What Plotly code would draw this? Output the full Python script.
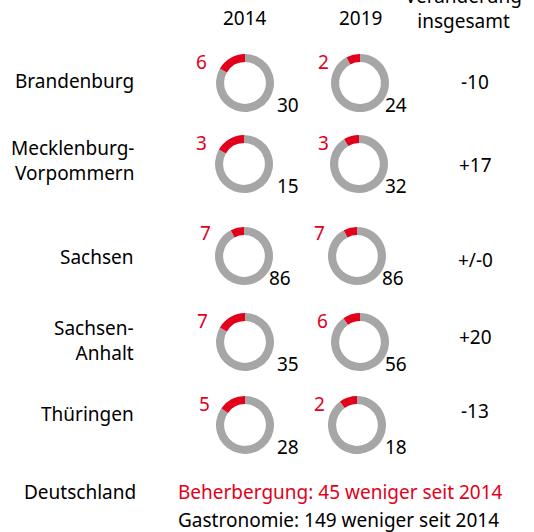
import plotly.graph_objects as go

# ---- data ----
states = ["Brandenburg", "Mecklenburg-<br>Vorpommern", "Sachsen", "Sachsen-<br>Anhalt", "Thüringen"]
years = ["2014", "2019"]
beherbergung_2014 = [6, 3, 7, 7, 5]
gastronomie_2014 = [30, 15, 86, 35, 28]
beherbergung_2019 = [2, 3, 7, 6, 2]
gastronomie_2019 = [24, 32, 86, 56, 18]
header_change = "Veränderung<br>insgesamt"
footer_label = "Deutschland"
footer_beh = "Beherbergung: 45 weniger seit 2014"
footer_gas = "Gastronomie: 149 weniger seit 2014"

# ---- styling / layout (pixel positions) ----
W, H = 534, 532
RED = "#e2001a"
GRAY = "#a6a6a6"
FONT = "Noto Sans"
FS = 19
R = 29
col_cx = [245, 360]
pie_cx = [[245, 244, 244, 245, 245], [360, 359, 357, 360, 357]]
pie_cy = [83, 164, 256, 342, 425]
red_right = [[209, 209, 213, 210, 212], [331, 331, 327, 330, 327]]
red_dy = [-21, -21, -23, -21, -21]
black_left = [[275, 275, 267, 275, 275], [383, 383, 380, 383, 383]]
state_cy = [81, 161, 257, 340, 414]
change_y = [82, 165, 260, 337, 411]


def px(x):
    return x / W


def py(y):
    return 1 - y / H


fig = go.Figure()
annotations = []


def ann(text, x, y, xanchor="center", color="black", size=FS, align="center"):
    annotations.append(dict(
        text=text, x=px(x), y=py(y), xref="paper", yref="paper",
        xanchor=xanchor, yanchor="middle", showarrow=False, align=align,
        font=dict(family=FONT, size=size, color=color)))


data_cols = [(beherbergung_2014, gastronomie_2014), (beherbergung_2019, gastronomie_2019)]

for ci, (beh, gas) in enumerate(data_cols):
    for ri in range(len(states)):
        cx = pie_cx[ci][ri]
        cy = pie_cy[ri]
        # gray first going clockwise from 12 o'clock, so the red share ends at 12 o'clock (left of top)
        fig.add_trace(go.Pie(
            values=[gas[ri], beh[ri]],
            labels=["Gastronomie", "Beherbergung"],
            marker=dict(colors=[GRAY, RED], line=dict(width=0)),
            hole=0.72, sort=False, direction="clockwise", rotation=0,
            textinfo="none", showlegend=False,
            domain=dict(x=[px(cx - R), px(cx + R)], y=[py(cy + R), py(cy - R)]),
        ))
        ann(str(beh[ri]), red_right[ci][ri], cy + red_dy[ri], xanchor="right", color=RED)
        ann(str(gas[ri]), black_left[ci][ri], cy + 22, xanchor="left")
    ann(years[ci], col_cx[ci], 18)

for ri in range(len(states)):
    ann(states[ri], 136, state_cy[ri], xanchor="right", align="right")
    total14 = beherbergung_2014[ri] + gastronomie_2014[ri]
    total19 = beherbergung_2019[ri] + gastronomie_2019[ri]
    d = total19 - total14
    txt = "+/-0" if d == 0 else f"{d:+d}"
    ann(txt, 475, change_y[ri])

ann(header_change, 463, 9)
ann(footer_label, 22, 492, xanchor="left")
ann(footer_beh, 176, 492, xanchor="left", color=RED)
ann(footer_gas, 176, 520, xanchor="left")

fig.update_layout(
    width=W, height=H, margin=dict(l=0, r=0, t=0, b=0),
    paper_bgcolor="white", plot_bgcolor="white",
    annotations=annotations,
    font=dict(family=FONT, size=FS),
)

fig.write_html("out.html", config={"displayModeBar": False},
               post_script="document.body.style.margin='0';")
